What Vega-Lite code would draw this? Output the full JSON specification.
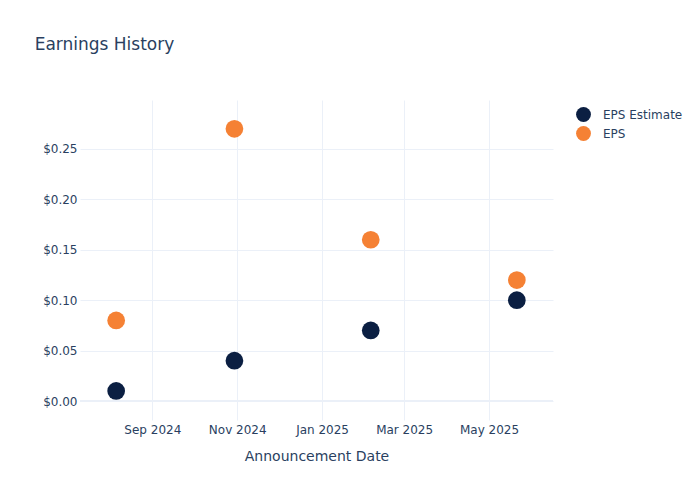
{
  "$schema": "https://vega.github.io/schema/vega-lite/v6.json",
  "width": 473,
  "height": 320,
  "autosize": {"type": "none"},
  "padding": {"left": 80, "top": 100, "right": 147, "bottom": 80},
  "background": "white",
  "config": {
    "font": "DejaVu Sans",
    "view": {"stroke": null},
    "axis": {"labelColor": "#2a3f5f", "titleColor": "#2a3f5f", "labelFont": "DejaVu Sans", "titleFont": "DejaVu Sans"}
  },
  "title": {
    "text": "Earnings History",
    "anchor": "start",
    "dx": -8,
    "offset": 46,
    "fontSize": 17,
    "fontWeight": "normal",
    "color": "#2a3f5f",
    "font": "DejaVu Sans"
  },
  "data": {
    "values": [
      {"date": "2024-08-06", "series": "EPS Estimate", "value": 0.01},
      {"date": "2024-10-30", "series": "EPS Estimate", "value": 0.04},
      {"date": "2025-02-05", "series": "EPS Estimate", "value": 0.07},
      {"date": "2025-05-21", "series": "EPS Estimate", "value": 0.10},
      {"date": "2024-08-06", "series": "EPS", "value": 0.08},
      {"date": "2024-10-30", "series": "EPS", "value": 0.27},
      {"date": "2025-02-05", "series": "EPS", "value": 0.16},
      {"date": "2025-05-21", "series": "EPS", "value": 0.12}
    ]
  },
  "layer": [
    {
      "data": {"values": [{"zero": 0}]},
      "mark": {"type": "rule", "color": "#ebf0f8", "strokeWidth": 2},
      "encoding": {
        "y": {"field": "zero", "type": "quantitative", "scale": {"domain": [-0.0188, 0.2986], "nice": false, "zero": false}}
      }
    },
    {
      "mark": {"type": "circle", "size": 314, "opacity": 1},
      "encoding": {
        "x": {
          "field": "date",
          "type": "temporal",
          "scale": {"type": "utc", "domain": [{"year": 2024, "month": 7, "date": 11, "utc": true}, {"year": 2025, "month": 6, "date": 16, "utc": true}]},
          "axis": {
            "title": "Announcement Date",
            "titleFontSize": 14,
            "titleFontWeight": "normal",
            "titlePadding": 14,
            "labelFontSize": 12,
            "labelPadding": 4,
            "labelExpr": "utcFormat(datum.value, '%b %Y')",
            "values": [
              {"year": 2024, "month": 9, "date": 1, "utc": true},
              {"year": 2024, "month": 11, "date": 1, "utc": true},
              {"year": 2025, "month": 1, "date": 1, "utc": true},
              {"year": 2025, "month": 3, "date": 1, "utc": true},
              {"year": 2025, "month": 5, "date": 1, "utc": true}
            ],
            "domain": false,
            "ticks": false,
            "grid": true,
            "gridColor": "#ebf0f8",
            "gridWidth": 1,
            "labelFlush": false
          }
        },
        "y": {
          "field": "value",
          "type": "quantitative",
          "scale": {"domain": [-0.0188, 0.2986], "nice": false, "zero": false},
          "axis": {
            "title": null,
            "values": [0, 0.05, 0.1, 0.15, 0.2, 0.25],
            "format": "$.2f",
            "labelFontSize": 12,
            "labelPadding": 3,
            "domain": false,
            "ticks": false,
            "grid": true,
            "gridColor": "#ebf0f8",
            "gridWidth": 1
          }
        },
        "color": {
          "field": "series",
          "type": "nominal",
          "scale": {"domain": ["EPS Estimate", "EPS"], "range": ["#0b1f42", "#f58134"]},
          "legend": {
            "title": null,
            "orient": "none",
            "legendX": 495,
            "legendY": 6,
            "symbolType": "circle",
            "symbolSize": 220,
            "symbolOpacity": 1,
            "labelFontSize": 12,
            "labelColor": "#2a3f5f",
            "labelFont": "DejaVu Sans",
            "rowPadding": 3,
            "labelOffset": 11
          }
        }
      }
    }
  ]
}
